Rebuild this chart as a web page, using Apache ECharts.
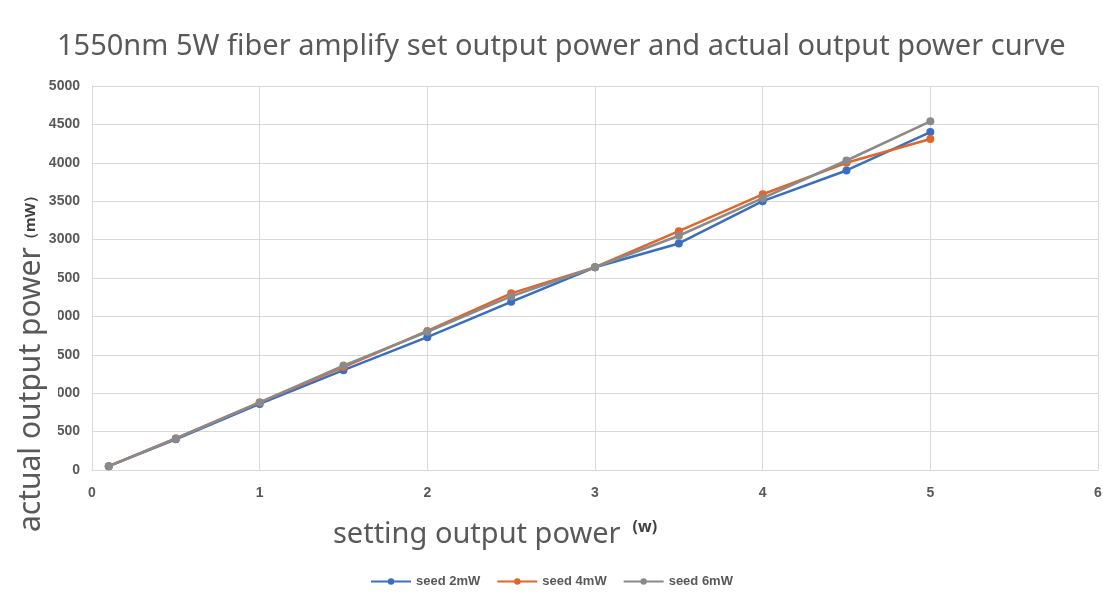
<!DOCTYPE html>
<html>
<head>
<meta charset="utf-8">
<script src="https://cdn.jsdelivr.net/npm/echarts@6/dist/echarts.min.js"></script>
<style>
html,body{margin:0;padding:0;background:#fff;}
#c{width:1103px;height:598px;}
</style>
</head>
<body>
<div id="c"></div>
<script>
const xValues = [0.1, 0.5, 1, 1.5, 2, 2.5, 3, 3.5, 4, 4.5, 5];
const seed2 = [50, 400, 860, 1300, 1730, 2190, 2640, 2950, 3500, 3900, 4400];
const seed4 = [50, 410, 880, 1340, 1810, 2300, 2640, 3110, 3590, 4000, 4310];
const seed6 = [50, 410, 880, 1360, 1800, 2260, 2640, 3050, 3540, 4030, 4540];
const seriesNames = ['seed 2mW', 'seed 4mW', 'seed 6mW'];
const titleText = '1550nm 5W fiber amplify set output power and actual output power curve';
const yTitle = 'actual output power';
const yUnit = '（mW）';

const pair = arr => xValues.map((x, i) => [x, arr[i]]);
const colors = ['#3a6fc0', '#e0662c', '#8a8a8a'];
const labelFont = "'Liberation Sans Narrow','Liberation Sans',Arial,sans-serif";
const mainFont = "'Noto Sans',sans-serif";

const chart = echarts.init(document.getElementById('c'));
chart.setOption({
  animation: false,
  backgroundColor: '#fff',
  title: {
    text: titleText,
    left: 52, top: 27,
    textStyle: {fontFamily: mainFont, fontSize: 29, fontWeight: 'normal', color: '#595959'}
  },
  legend: {
    data: seriesNames,
    left: 'center', top: 570,
    itemWidth: 40, itemHeight: 8, itemGap: 16,
    textStyle: {fontFamily: labelFont, fontSize: 13, fontWeight: 'bold', color: '#595959'}
  },
  grid: {left: 92, right: 5, top: 86, bottom: 128, containLabel: false, outerBoundsMode: 'none'},
  graphic: [{
    type: 'text',
    x: 31, y: 360,
    rotation: Math.PI / 2,
    z: 100,
    style: {
      text: '{a|' + yTitle + '}{u|' + yUnit + '}',
      align: 'center', verticalAlign: 'middle',
      rich: {
        a: {fontFamily: mainFont, fontSize: 30, fill: '#595959', color: '#595959', backgroundColor: '#fff', height: 54, lineHeight: 54},
        u: {fontFamily: mainFont, fontSize: 15, fontWeight: 'bold', fill: '#404040', color: '#404040', lineHeight: 54}
      }
    }
  }],
  xAxis: {
    type: 'value', min: 0, max: 6, interval: 1,
    axisLine: {show: true, lineStyle: {color: '#d9d9d9', width: 1}},
    axisTick: {show: false},
    splitLine: {show: true, lineStyle: {color: '#d9d9d9', width: 1}},
    axisLabel: {margin: 16, fontFamily: labelFont, fontSize: 14, fontWeight: 'bold', color: '#595959', formatter: v => String(v)},
    name: 'setting output power{s|(w)}',
    nameLocation: 'middle', nameGap: 49, nameMoveOverlap: false,
    nameTextStyle: {
      fontFamily: mainFont, fontSize: 29, color: '#595959',
      padding: [0, 200, 0, 0],
      rich: {s: {fontFamily: mainFont, fontSize: 16, fontWeight: 'bold', color: '#404040', verticalAlign: 'top', padding: [0, 0, 16, 12]}}
    }
  },
  yAxis: {
    type: 'value', min: 0, max: 5000, interval: 500,
    axisLine: {show: true, lineStyle: {color: '#d9d9d9', width: 1}},
    axisTick: {show: false},
    splitLine: {show: true, lineStyle: {color: '#d9d9d9', width: 1}},
    axisLabel: {margin: 12, fontFamily: labelFont, fontSize: 14, fontWeight: 'bold', color: '#595959', formatter: v => String(v)}
  },
  series: [seed2, seed4, seed6].map((d, i) => ({
    name: seriesNames[i],
    type: 'line',
    data: pair(d),
    symbol: 'circle', symbolSize: 8,
    itemStyle: {color: colors[i]},
    lineStyle: {color: colors[i], width: 2.5},
    z: 2 + i
  }))
});
</script>
</body>
</html>
